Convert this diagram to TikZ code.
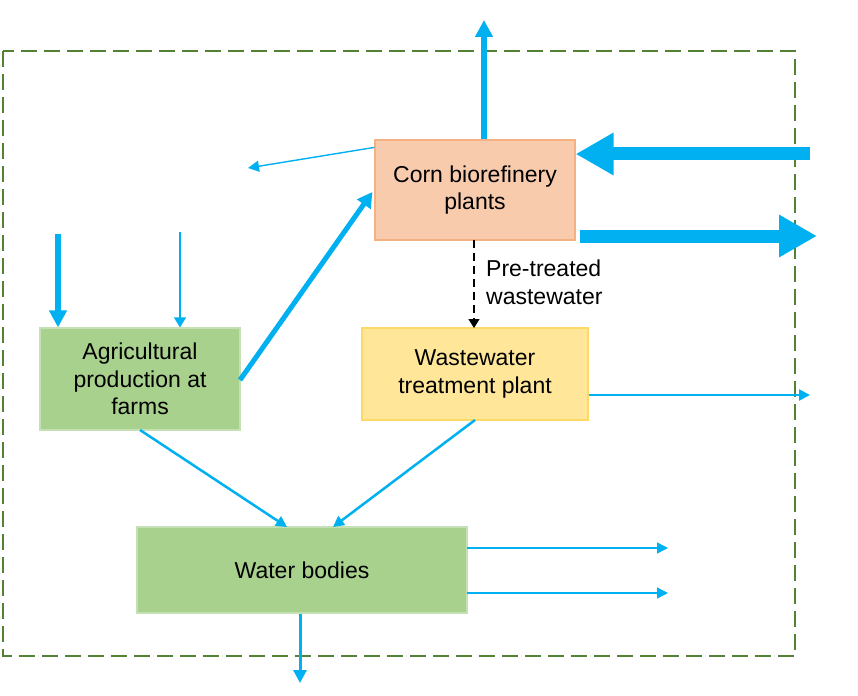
\documentclass[tikz,border=0pt]{standalone}
\usepackage{fontspec}
\setmainfont{Liberation Sans}
\usetikzlibrary{arrows.meta}
\definecolor{flow}{HTML}{00B0F0}
\definecolor{frame}{HTML}{548235}
\definecolor{corn}{HTML}{F8CBAD}
\definecolor{cornb}{HTML}{F4B183}
\definecolor{farm}{HTML}{A9D18E}
\definecolor{farmb}{HTML}{C5E0B4}
\definecolor{wwtp}{HTML}{FFE699}
\definecolor{wwtpb}{HTML}{FFD966}
\tikzset{
  box/.style={draw, line width=1.2pt, align=center, inner sep=0pt,
    font=\fontsize{23}{27.5}\selectfont},
  flowline/.style={draw=flow},
  huge/.style={flowline, line width=13pt, -{Triangle[length=38pt,width=40pt]}},
  bold/.style={flowline, line width=5.5pt, -{Triangle[length=17pt,width=17pt]}},
  mid/.style={flowline, line width=2.5pt, -{Triangle[length=11pt,width=11pt]}},
  thin/.style={flowline, line width=1.4pt, -{Triangle[length=11pt,width=11pt]}},
}
\begin{document}
\begin{tikzpicture}[x=1pt,y=-1pt]
\useasboundingbox (0,0) rectangle (858,695);
% frame
\draw[frame, line width=1.5pt, dash pattern=on 16pt off 7pt] (3,51) rectangle (795,656);
% boxes
\node[box, fill=corn, draw=cornb, minimum width=200pt, minimum height=100pt] (corn) at (475,190) {Corn biorefinery\\plants};
\node[box, fill=farm, draw=farmb, minimum width=200pt, minimum height=102pt] (farm) at (140,379) {Agricultural\\production at\\farms};
\node[box, fill=wwtp, draw=wwtpb, minimum width=226pt, minimum height=92pt] (wwtp) at (475,374) {Wastewater\\treatment plant};
\node[box, fill=farm, draw=farmb, minimum width=330pt, minimum height=86pt] (water) at (302,570) {Water bodies};
% free ends
\coordinate (upend) at (484,20);
\coordinate (inR) at (810,154);
\coordinate (outR) at (817,236);
\coordinate (leftend) at (248,168);
\coordinate (farmA) at (58,234);
\coordinate (farmB) at (180,232);
\coordinate (wwR) at (810,395);
\coordinate (wbR1) at (668,548);
\coordinate (wbR2) at (668,593);
\coordinate (wbD) at (300,683);
% arrows
\draw[bold, line width=6pt] (corn.north -| upend) -- (upend);
\draw[huge] (inR) -- (corn.east |- inR);
\draw[huge] ([xshift=4pt]corn.east |- outR) -- (outR);
\draw[thin] ([yshift=-8pt]corn.north west) -- (leftend);
\draw[bold, line width=5pt, -{Triangle[length=15pt,width=16pt]}] (240,380) -- ([xshift=-2pt,yshift=-2pt]corn.west);
\draw[bold] (farmA) -- (farm.north -| farmA);
\draw[thin, -{Triangle[length=10pt,width=12pt]}] (farmB) -- (farm.north -| farmB);
\draw[line width=1.4pt, dash pattern=on 8pt off 5pt, -{Triangle[length=9pt,width=11pt]}] (474,240) -- (474,328);
\node[anchor=west, align=left, inner sep=0pt, font=\fontsize{23}{28}\selectfont] (lbl) at (486,282) {Pre-treated\\wastewater};
\draw[mid] (wwtp.east |- wwR) -- (wwR);
\draw[mid] (140,430) -- (287,527);
\draw[mid] (475,420) -- (333,527);
\draw[thin] (467,548) -- (wbR1);
\draw[thin] (467,593) -- (wbR2);
\draw[mid, line width=3pt, -{Triangle[length=13pt,width=13pt]}] (water.south -| wbD) -- (wbD);
\end{tikzpicture}
\end{document}
